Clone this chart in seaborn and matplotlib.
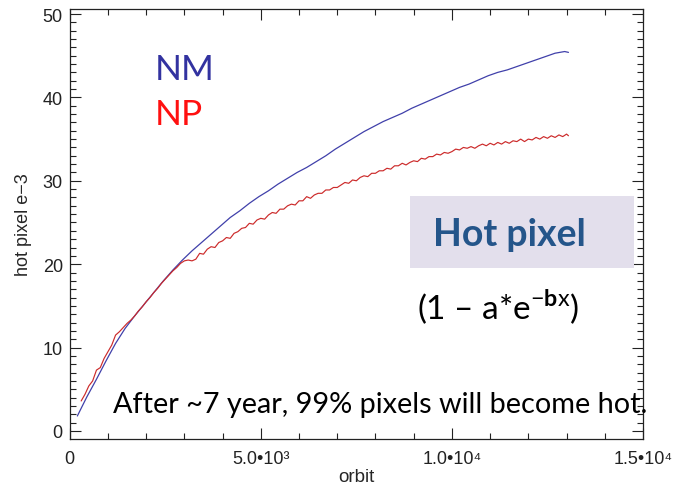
import numpy as np
import pandas as pd
import matplotlib
matplotlib.use("Agg")
import matplotlib.pyplot as plt
import seaborn as sns
from matplotlib.ticker import MultipleLocator, FixedLocator, FixedFormatter
from matplotlib.patches import Rectangle

# ---- data ----
nm_orbit = [200, 450, 700, 950, 1200, 1450, 1700, 1950, 2200, 2450, 2700, 2950, 3200,
            3450, 3700, 3950, 4200, 4450, 4700, 4950, 5200, 5450, 5700, 5950, 6200,
            6450, 6700, 6950, 7200, 7450, 7700, 7950, 8200, 8450, 8700, 8950, 9200,
            9450, 9700, 9950, 10200, 10450, 10700, 10950, 11200, 11450, 11700, 11950,
            12200, 12450, 12700, 12950, 13050]
nm_value = [1.8, 4.1, 6.2, 8.4, 10.5, 12.3, 13.8, 15.2, 16.6, 18.0, 19.3, 20.5, 21.6,
            22.6, 23.6, 24.6, 25.6, 26.4, 27.3, 28.1, 28.8, 29.6, 30.3, 31.0, 31.6,
            32.3, 33.0, 33.8, 34.5, 35.2, 35.9, 36.5, 37.1, 37.6, 38.1, 38.7, 39.2,
            39.7, 40.2, 40.7, 41.2, 41.6, 42.1, 42.6, 43.0, 43.3, 43.7, 44.1, 44.5,
            44.9, 45.3, 45.5, 45.4]

np_orbit = [300, 400, 500, 600, 700, 800, 900, 1000, 1100, 1200, 1300, 1400, 1500, 1600,
            1700, 1800, 1900, 2000, 2100, 2200, 2300, 2400, 2500, 2600, 2700, 2800, 2900,
            3000, 3100, 3200, 3300, 3400, 3500, 3600, 3700, 3800, 3900, 4000, 4100, 4200,
            4300, 4400, 4500, 4600, 4700, 4800, 4900, 5000, 5100, 5200, 5300, 5400, 5500,
            5600, 5700, 5800, 5900, 6000, 6100, 6200, 6300, 6400, 6500, 6600, 6700, 6800,
            6900, 7000, 7100, 7200, 7300, 7400, 7500, 7600, 7700, 7800, 7900, 8000, 8100,
            8200, 8300, 8400, 8500, 8600, 8700, 8800, 8900, 9000, 9100, 9200, 9300, 9400,
            9500, 9600, 9700, 9800, 9900, 10000, 10100, 10200, 10300, 10400, 10500, 10600,
            10700, 10800, 10900, 11000, 11100, 11200, 11300, 11400, 11500, 11600, 11700,
            11800, 11900, 12000, 12100, 12200, 12300, 12400, 12500, 12600, 12700, 12800,
            12900, 13000, 13050]
np_value = [3.6, 4.4, 5.4, 6.0, 7.3, 7.6, 8.7, 9.5, 10.3, 11.5, 11.9, 12.4, 12.9, 13.3,
            13.8, 14.4, 14.9, 15.5, 16.0, 16.6, 17.1, 17.7, 18.2, 18.7, 19.2, 19.6, 20.1,
            20.4, 20.5, 20.4, 20.6, 21.3, 21.2, 21.8, 22.1, 22.0, 22.6, 22.8, 23.2, 23.1,
            23.7, 23.9, 24.3, 24.4, 24.9, 24.8, 25.3, 25.5, 25.4, 25.9, 26.2, 26.1, 26.6,
            26.6, 27.0, 27.2, 27.1, 27.6, 27.6, 28.1, 27.9, 28.3, 28.5, 28.5, 28.9, 28.9,
            29.2, 29.2, 29.5, 29.8, 29.7, 30.1, 30.0, 30.4, 30.6, 30.5, 30.9, 30.9, 31.2,
            31.2, 31.5, 31.4, 31.8, 31.8, 32.1, 31.9, 32.2, 32.4, 32.3, 32.7, 32.6, 32.9,
            32.9, 33.2, 33.1, 33.4, 33.3, 33.5, 33.8, 33.7, 34.0, 33.9, 34.1, 33.9,
            34.2, 34.4, 34.2, 34.5, 34.3, 34.6, 34.4, 34.7, 34.5, 34.8, 34.7,
            35.0, 34.7, 35.0, 34.9, 35.2, 35.0, 35.3, 35.1, 35.4, 35.2, 35.5,
            35.3, 35.6, 35.4]

x_ticks = [0, 5000, 10000, 15000]
x_tick_labels = ["0", "5.0\u202210\u00b3", "1.0\u202210\u2074", "1.5\u202210\u2074"]
y_ticks = [0, 10, 20, 30, 40, 50]

nm_df = pd.DataFrame({"orbit": nm_orbit, "value": nm_value})
np_df = pd.DataFrame({"orbit": np_orbit, "value": np_value})

sns.set_style("ticks")
plt.rcParams["font.family"] = ["Liberation Sans", "DejaVu Sans"]
plt.rcParams["mathtext.fontset"] = "custom"
plt.rcParams["mathtext.rm"] = "Lato"
plt.rcParams["mathtext.bf"] = "Lato:bold"

fig = plt.figure(figsize=(6.79, 4.85), dpi=100)
ax = fig.add_axes([69.7 / 679, 1 - 439.5 / 485, (643 - 69.7) / 679, (439.5 - 10) / 485])

sns.lineplot(data=nm_df, x="orbit", y="value", ax=ax, color="#4040aa", linewidth=0.9)
sns.lineplot(data=np_df, x="orbit", y="value", ax=ax, color="#cc2a2a", linewidth=0.85)

ax.set_xlim(0, 15000)
ax.set_ylim(-0.9, 50.6)
ax.xaxis.set_major_locator(FixedLocator(x_ticks))
ax.xaxis.set_major_formatter(FixedFormatter(x_tick_labels))
ax.xaxis.set_minor_locator(MultipleLocator(1000))
ax.yaxis.set_major_locator(FixedLocator(y_ticks))
ax.yaxis.set_minor_locator(MultipleLocator(1))
ax.tick_params(which="both", direction="in", top=True, right=True, colors="#222222",
               labelsize=13, width=0.8)
ax.tick_params(which="major", length=8)
ax.tick_params(which="minor", length=4)
ax.tick_params(axis="x", pad=8)
ax.tick_params(axis="y", pad=5)
for s in ax.spines.values():
    s.set_linewidth(0.9)
    s.set_color("#222222")
ax.set_xlabel("orbit", fontsize=13.5, labelpad=1)
ax.set_ylabel("hot pixel e\u22123", fontsize=13, labelpad=8)

# annotations
fig.text(155 / 679, 1 - 70 / 485, "NM", color="#3232a0", fontsize=25.5, family="Lato",
         va="center", ha="left")
fig.text(155 / 679, 1 - 115 / 485, "NP", color="#ff1010", fontsize=25.5, family="Lato",
         va="center", ha="left")

fig.patches.append(Rectangle((410 / 679, 1 - 269 / 485), 224 / 679, 72 / 485,
                             transform=fig.transFigure, facecolor="#e3dfec",
                             edgecolor="none", zorder=3))
fig.text(509 / 679, 1 - 235 / 485, "Hot pixel", color="#24558a", fontsize=27,
         family="Lato", fontweight="bold", va="center", ha="center", zorder=4)
fig.text(498 / 679, 1 - 307 / 485, "(1 \u2013 a*e$^{\\mathrm{-}\\mathbf{b}\\mathrm{x}}$)",
         color="black", fontsize=24, family="Lato", va="center", ha="center", zorder=4)
fig.text(380 / 679, 1 - 405 / 485, "After ~7 year, 99% pixels will become hot.",
         color="black", fontsize=20.8, family="Lato", va="center", ha="center", zorder=4)

fig.savefig("out.png", dpi=100)
